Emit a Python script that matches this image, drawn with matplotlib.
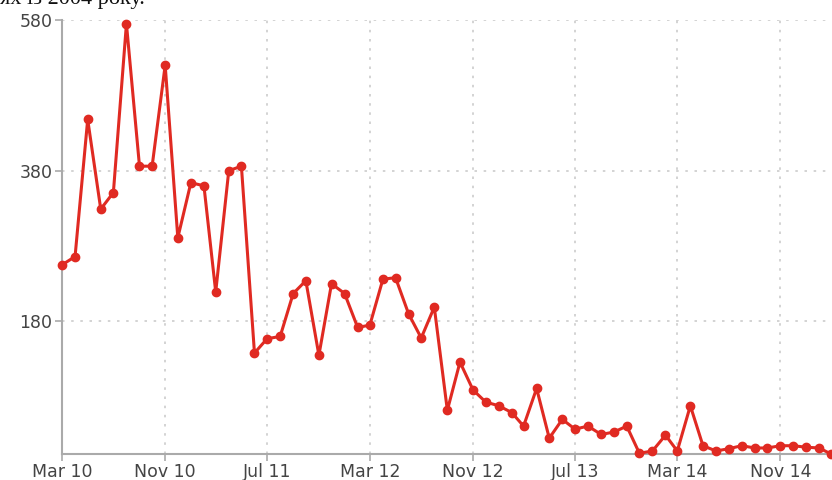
import matplotlib
matplotlib.use("Agg")
import matplotlib.pyplot as plt
import matplotlib.dates as mdates
import pandas as pd

months = pd.date_range("2010-03-01", "2015-03-01", freq="MS")
values = [255, 266, 448, 329, 351, 575, 386, 386, 520, 291,
          364, 360, 219, 380, 386, 138, 157, 160, 217, 234,
          135, 230, 217, 172, 175, 236, 238, 190, 158, 199,
          62, 126, 89, 73, 68, 59, 41, 91, 25, 50,
          37, 41, 30, 33, 41, 5, 8, 29, 8, 68,
          15, 8, 11, 15, 12, 12, 15, 15, 13, 12, 4]
yticks = [180, 380, 580]
xtick_dates = pd.date_range("2010-03-01", "2014-11-01", freq="8MS")
xtick_labels = ["Mar 10", "Nov 10", "Jul 11", "Mar 12", "Nov 12", "Jul 13", "Mar 14", "Nov 14"]

fig = plt.figure(figsize=(8.32, 4.8), dpi=100)
ax = fig.add_axes([62/832, 26/480, (831-62)/832, (454-20)/480])

red = "#e02a22"
ax.plot(months, values, color=red, lw=2.2, marker="o", ms=6,
        markerfacecolor=red, markeredgecolor=red, clip_on=False, zorder=3)

ax.set_xlim(months[0], months[-1])
ax.set_ylim(4, 580)
ax.set_yticks(yticks)
ax.set_yticklabels([str(v) for v in yticks])
ax.set_xticks(xtick_dates)
ax.set_xticklabels(xtick_labels)

ax.grid(True, color="#cccccc", linestyle=(0, (1.5, 4)), lw=1.2)
ax.set_axisbelow(True)
for s in ["top", "right"]:
    ax.spines[s].set_visible(False)
for s in ["left", "bottom"]:
    ax.spines[s].set_color("#aaaaaa")
    ax.spines[s].set_linewidth(1.5)
ax.tick_params(axis="both", colors="#aaaaaa", length=5, width=1.2,
               labelcolor="#444444", labelsize=12.5)
ax.tick_params(axis="x", pad=1.5)
ax.tick_params(axis="y", pad=2)

fig.text(0.0, 1 - 4/480, "ях із 2004 року.", family="Liberation Serif",
         fontsize=16, va="baseline", ha="left", color="#111111")

fig.savefig("out.png", dpi=100)
